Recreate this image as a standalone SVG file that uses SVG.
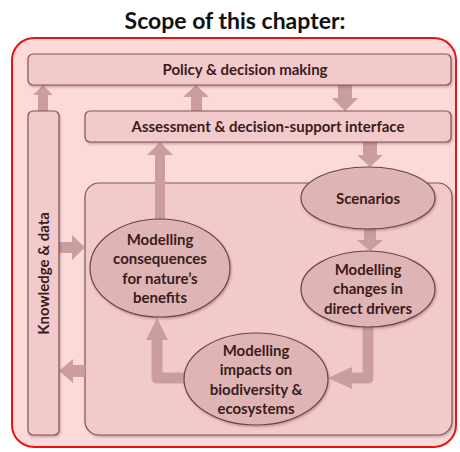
<svg xmlns="http://www.w3.org/2000/svg" width="460" height="452" viewBox="0 0 460 452">
<defs>
<style>
.box{fill:#f3cacb;stroke:#805454;stroke-width:1.2;filter:url(#sh)}
.ell{fill:#dfb4b4;stroke:#6e4444;stroke-width:1.2;filter:url(#sh)}
.arr{fill:#cc9d9d}
.shaft{fill:none;stroke:#cc9d9d;stroke-width:11;stroke-linejoin:round}
.t{font-family:Lato,"Liberation Sans",sans-serif;font-weight:bold;font-size:15px;fill:#3a1c1c;text-anchor:middle}
</style>
<filter id="sh" x="-10%" y="-10%" width="120%" height="130%">
<feDropShadow dx="1" dy="1.5" stdDeviation="1" flood-color="#5a3030" flood-opacity="0.35"/>
</filter>
</defs>
<rect width="460" height="452" fill="#ffffff"/>
<text x="235" y="29" font-family="Lato,'Liberation Sans',sans-serif" font-weight="bold" font-size="23" text-anchor="middle" fill="#111">Scope of this chapter:</text>
<rect x="12" y="38" width="444" height="409" rx="22" fill="#fcdada" stroke="#ee1111" stroke-width="2"/>

<g id="modelling-area">
<rect class="box" x="85" y="183" width="367" height="252" rx="14"/>
</g>

<g id="connectors">
<!-- knowledge -> policy -->
<polygon class="arr" points="38,111 38,95 33,95 43,85 53,95 48,95 48,111"/>
<!-- assessment -> policy -->
<polygon class="arr" points="191,111 191,97 183,97 196,85 209,97 202,97 202,111"/>
<!-- policy -> assessment -->
<polygon class="arr" points="338,85 338,98 332,98 345,111 358,98 352,98 352,85"/>
<!-- assessment -> scenarios -->
<polygon class="arr" points="363,142 363,155 357,155 370,167 383,155 377,155 377,142"/>
<!-- consequences -> assessment -->
<polygon class="arr" points="155,222 155,155 147,155 160,142 173,155 165,155 165,222"/>
<!-- scenarios -> changes -->
<polygon class="arr" points="364,227 364,240 357,240 370,251 383,240 376,240 376,227"/>
<!-- knowledge -> inner -->
<polygon class="arr" points="59,242 72,242 72,235 85,247.5 72,260 72,253 59,253"/>
<!-- inner -> knowledge -->
<polygon class="arr" points="85,365 73,365 73,359 59,371 73,383 73,377 85,377"/>
<!-- changes -> impacts -->
<path class="shaft" d="M368,324 V378 H350"/>
<polygon class="arr" points="352,367 328,378 352,389"/>
<!-- impacts -> consequences -->
<path class="shaft" d="M186,378 H157 V338"/>
<polygon class="arr" points="146,340 157,318 168,340"/>
</g>

<g id="policy">
<rect class="box" x="28" y="54" width="423" height="31" rx="5"/>
<text class="t" x="245" y="75">Policy &amp; decision making</text>
</g>
<g id="assessment">
<rect class="box" x="85" y="111" width="366" height="31" rx="5"/>
<text class="t" x="268" y="132">Assessment &amp; decision-support interface</text>
</g>
<g id="knowledge">
<rect class="box" x="28" y="111" width="31" height="324" rx="5"/>
<text class="t" transform="translate(48.5,273.5) rotate(-90)">Knowledge &amp; data</text>
</g>

<g id="scenarios">
<ellipse class="ell" cx="368" cy="198" rx="67" ry="31"/>
<text class="t" x="368" y="204">Scenarios</text>
</g>
<g id="drivers">
<ellipse class="ell" cx="368" cy="289" rx="67" ry="38"/>
<text class="t" x="368" y="274.5">Modelling</text>
<text class="t" x="368" y="294">changes in</text>
<text class="t" x="368" y="313.5">direct drivers</text>
</g>
<g id="consequences">
<ellipse class="ell" cx="160" cy="268" rx="70" ry="49"/>
<text class="t" x="160" y="244.5">Modelling</text>
<text class="t" x="160" y="264">consequences</text>
<text class="t" x="160" y="283.5">for nature’s</text>
<text class="t" x="160" y="303">benefits</text>
</g>
<g id="impacts">
<ellipse class="ell" cx="256" cy="379" rx="72" ry="46"/>
<text class="t" x="256" y="355.5">Modelling</text>
<text class="t" x="256" y="375">impacts on</text>
<text class="t" x="256" y="394.5">biodiversity &amp;</text>
<text class="t" x="256" y="414">ecosystems</text>
</g>
</svg>
